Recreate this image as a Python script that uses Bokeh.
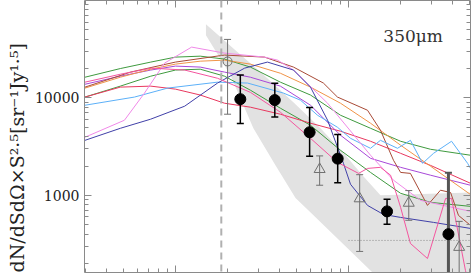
import math
from bokeh.plotting import figure
from bokeh.models import LogAxis, Label, Span, LogTicker, PrintfTickFormatter, Title
from bokeh.embed import file_html
from bokeh.resources import INLINE

# ---------------- data (flux density S [mJy], counts dN/dS*S^2.5) ----------------
X_GRID = [3.0, 4.8, 7.2, 10, 13.9, 19.2, 27.1, 40.4, 60.3, 89.9, 134, 200, 298, 507]
green_a = [16300, 20000, 23300, 26200, 26800, 25000, 20700, 14500, 10700, 6640, 4880, 3590, 2970, 2580]
green_b = [10200, 13200, 16700, 19300, 19700, 16700, 12000, 7840, 5240, 2900, 1720, 1050, 848, 771]
crimson = [10200, 12900, 13200, 12300, 10700, 8820, 8030, 6800, 5500, 4550, 3590, 2700, 2030, 1330]
purple = [13800, 16700, 19300, 21200, 20700, 18400, 16300, 13200, 8410, 4140, 2400, 1940, 1610, 1270]
orange = [12600, 16300, 19700, 22200, 23800, 24400, 22200, 17900, 12900, 8820, 5500, 3270, 1990, 1020]

brown_x = [3.0, 5.5, 10, 19.2, 32.7, 48.1, 71.6, 86.3, 128.8, 153, 182, 200, 228, 286, 340, 389, 432, 507]
brown_y = [12900, 18400, 23300, 27500, 26200, 20700, 14200, 10200, 7470, 4660, 2290, 1720, 1680, 789, 1130, 1070, 623, 492]

blue_x = [3.0, 5.8, 9.0, 17.5, 26.1, 42.1, 52.8, 66.2, 86.3, 102.7, 117.3, 134, 153, 192, 228, 268, 310, 394, 488, 507]
blue_y = [8410, 10200, 12600, 14500, 14200, 11200, 9470, 6640, 5000, 3850, 3420, 3040, 3670, 3040, 3670, 2130, 2700, 3590, 2130, 1890]

plum_x = [3.0, 5.07, 6.62, 8.64, 12.4, 19.2, 32.7, 38.9, 48.1, 75.7, 134, 182, 261, 507]
plum_y = [3950, 5900, 11200, 22700, 33200, 28800, 26200, 24400, 19300, 8820, 2580, 1430, 889, 685]

navy_x = [3.0, 4.81, 7.17, 11.3, 17.5, 25.1, 34.0, 48.1, 60.3, 75.7, 93.5, 102.7, 128.8, 159, 200, 310, 507]
navy_y = [3670, 4880, 6040, 8220, 14200, 20200, 23300, 19300, 12900, 5900, 2130, 1300, 789, 638, 594, 528, 458]

pink_x = [3.0, 4.81, 7.26, 11.3, 17.5, 27.1, 40.4, 60.3, 86.3, 114.3, 128.8, 153, 175, 200, 228, 286, 364, 394, 474, 507]
pink_y = [14500, 17500, 20200, 19300, 15900, 11400, 7130, 3850, 2180, 1680, 1890, 1940, 1610, 753, 321, 225, 931, 931, 170, 106]

# measured counts (filled circles)
pts_x = [23.7, 37.5, 59.6, 86.6, 167, 378]
pts_y = [9700, 9500, 4440, 2380, 685, 400]
pts_hi = [17200, 14100, 7970, 4210, 910, 1710]
pts_lo = [5460, 6380, 2520, 1350, 506, 100]

# open circle
oc_x = [20.0]
oc_y = [23650]
oc_hi = [39800]
oc_lo = [6800]

# open triangles
tri_x = [68.1, 116, 223, 436]
tri_y = [1850, 926, 834, 294]
tri_hi = [2540, 1630, 1120, 541]
tri_lo = [1270, 266, 555, 100]

# shaded band (upper edge then lower edge)
band_x = [15.0, 22.2, 31.0, 48.0, 68.9, 96.1, 120.3, 153, 508, 508, 203, 137.7, 60.4, 49.4, 37.9, 28.2, 20.8, 15.0]
band_y = [57100, 30900, 18400, 9030, 4890, 2580, 1610, 1000, 1070, 83, 83, 162, 668, 939, 2030, 4890, 17100, 44000]

confusion_x = 18.4
dotted_x = [100, 507]
dotted_y = [345, 345]

X_RANGE = (2.98, 507)
Y_RANGE = (161.7, 99800)

# ---------------- figure ----------------
p = figure(width=471, height=274, x_axis_type="log", y_axis_type="log",
           x_range=X_RANGE, y_range=Y_RANGE, output_backend="svg",
           toolbar_location=None, min_border_left=84, min_border_right=1,
           min_border_top=0, min_border_bottom=2)
p.outline_line_color = None
p.grid.visible = False
p.background_fill_color = "white"

AX = "#8a8a8a"


def style(ax, labels=False):
    ax.ticker = LogTicker(num_minor_ticks=10)
    ax.axis_line_color = AX
    ax.major_tick_line_color = AX
    ax.minor_tick_line_color = AX
    ax.major_tick_in = 7
    ax.major_tick_out = 0
    ax.minor_tick_in = 4
    ax.minor_tick_out = 0
    if labels:
        ax.formatter = PrintfTickFormatter(format="%d")
        ax.major_label_text_font = "DejaVu Serif"
        ax.major_label_text_font_size = "14px"
        ax.major_label_text_color = "#222222"
        ax.major_label_standoff = 5
    else:
        ax.major_label_text_font_size = "1px"
        ax.major_label_text_color = None
        ax.major_label_standoff = 0


style(p.xaxis[0])
style(p.yaxis[0], labels=True)
ra = LogAxis()
style(ra)
p.add_layout(ra, "right")
ta = LogAxis()
style(ta)
p.add_layout(ta, "above")

# y-axis title (side title, anchored at the bottom of the frame)
p.add_layout(Title(text="dN/dSdΩ×S²·⁵[sr⁻¹Jy¹·⁵]", align="left", offset=0,
                   standoff=7, text_font="DejaVu Serif", text_font_size="19px",
                   text_font_style="normal", text_color="#222222"), "left")

# band
p.patch(band_x, band_y, fill_color="#e2e2e2", line_color=None)

# confusion limit
p.add_layout(Span(location=confusion_x, dimension="height", line_color="#b0b0b0",
                  line_width=2, line_dash="7 5"))

# model lines
LW = 1
p.line(X_GRID, green_a, line_color="#3f9a3f", line_width=LW)
p.line(X_GRID, green_b, line_color="#3f9a3f", line_width=LW)
p.line(X_GRID, crimson, line_color="#e8385e", line_width=LW)
p.line(X_GRID, purple, line_color="#a848d8", line_width=LW)
p.line(X_GRID, orange, line_color="#f09448", line_width=LW)
p.line(brown_x, brown_y, line_color="#a84a36", line_width=LW)
p.line(blue_x, blue_y, line_color="#5cb0f8", line_width=LW)
p.line(plum_x, plum_y, line_color="#f088e8", line_width=LW)
p.line(navy_x, navy_y, line_color="#4040a8", line_width=LW)
p.line(pink_x, pink_y, line_color="#f4559e", line_width=LW)

p.line(dotted_x, dotted_y, line_color="#888888", line_width=1, line_dash="1 2")

# error bars: open symbols
GR = "#707070"
p.segment(oc_x, oc_lo, oc_x, oc_hi, line_color=GR, line_width=1)
p.scatter(oc_x + oc_x, oc_lo + oc_hi, marker="dash", size=7, line_color=GR, line_width=1)
p.segment(tri_x, tri_lo, tri_x, tri_hi, line_color=GR, line_width=1)
p.scatter(tri_x[:3] + tri_x, tri_lo[:3] + tri_hi, marker="dash", size=7, line_color=GR, line_width=1)

p.scatter(oc_x, oc_y, marker="circle", size=9, fill_color=None, line_color=GR, line_width=1)
p.scatter(tri_x, tri_y, marker="triangle", size=11, fill_color=None, line_color=GR, line_width=1)

# error bars: filled points
n = len(pts_x) - 1
p.segment(pts_x[:n], pts_lo[:n], pts_x[:n], pts_hi[:n], line_color="black", line_width=1.5)
p.scatter(pts_x[:n] + pts_x[:n], pts_lo[:n] + pts_hi[:n], marker="dash", size=7,
          line_color="black", line_width=1.5)
p.segment(pts_x[n:], pts_lo[n:], pts_x[n:], pts_hi[n:], line_color="#555555", line_width=3)
p.scatter(pts_x[n:], pts_hi[n:], marker="dash", size=7, line_color="#555555", line_width=2)
p.scatter(pts_x, pts_y, marker="circle", size=11, fill_color="black", line_color="black")

# wavelength label
p.add_layout(Label(x=159, y=43000, text="350μm", text_font="DejaVu Serif",
                   text_font_size="17px", text_color="#333333",
                   text_align="left", text_baseline="alphabetic"))

open("out.html", "w").write(file_html(p, INLINE))
